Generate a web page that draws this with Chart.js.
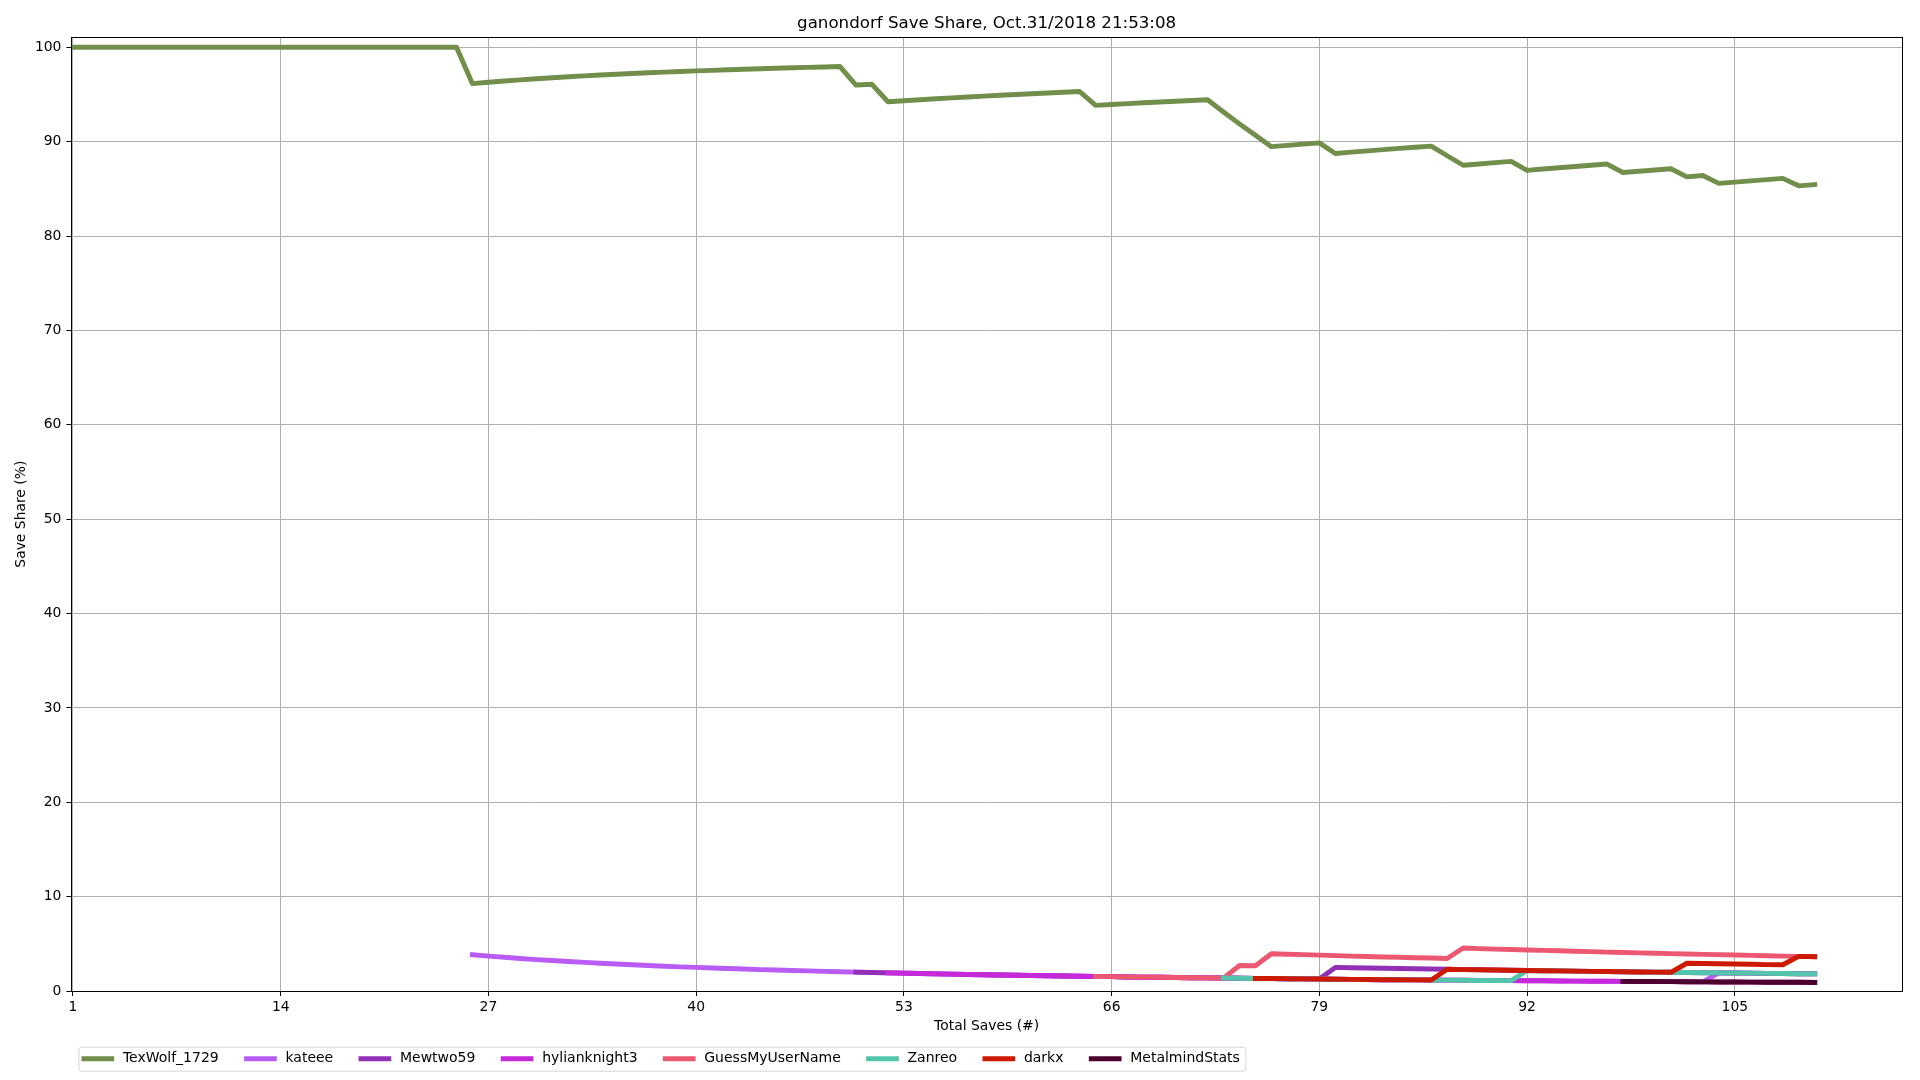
<!DOCTYPE html>
<html>
<head>
<meta charset="utf-8">
<script src="https://cdn.jsdelivr.net/npm/chart.js@4.4.1/dist/chart.umd.min.js"></script>
<style>
html, body { margin: 0; padding: 0; background: #ffffff; }
canvas { display: block; }
</style>
</head>
<body>
<canvas id="chart" width="1920" height="1080"></canvas>
<script>
// ---- chart text ----
const chartTitle = 'ganondorf Save Share, Oct.31/2018 21:53:08';
const xAxisLabel = 'Total Saves (#)';
const yAxisLabel = 'Save Share (%)';

// ---- tick labels ----
const xTickValues = [1, 14, 27, 40, 53, 66, 79, 92, 105];
const yTickValues = [0, 10, 20, 30, 40, 50, 60, 70, 80, 90, 100];

// ---- series (cumulative save share in %, one value per total save, starting at the series' first save) ----
const seriesNames = ['TexWolf_1729', 'kateee', 'Mewtwo59', 'hylianknight3', 'GuessMyUserName', 'Zanreo', 'darkx', 'MetalmindStats'];
const seriesColors = ['#718f4b', '#b85cf4', '#9130b5', '#c629d9', '#ec5872', '#54c5ad', '#cc1900', '#4b002d'];
const seriesStarts = [1, 26, 50, 52, 65, 73, 75, 98];

const texWolf = [
  100, 100, 100, 100, 100, 100, 100, 100, 100, 100,
  100, 100, 100, 100, 100, 100, 100, 100, 100, 100,
  100, 100, 100, 100, 100, 96.15, 96.30, 96.43, 96.55, 96.67,
  96.77, 96.88, 96.97, 97.06, 97.14, 97.22, 97.30, 97.37, 97.44, 97.50,
  97.56, 97.62, 97.67, 97.73, 97.78, 97.83, 97.87, 97.92, 97.96, 96.00,
  96.08, 94.23, 94.34, 94.44, 94.55, 94.64, 94.74, 94.83, 94.92, 95.00,
  95.08, 95.16, 95.24, 95.31, 93.85, 93.94, 94.03, 94.12, 94.20, 94.29,
  94.37, 94.44, 93.15, 91.89, 90.67, 89.47, 89.61, 89.74, 89.87, 88.75,
  88.89, 89.02, 89.16, 89.29, 89.41, 89.53, 88.51, 87.50, 87.64, 87.78,
  87.91, 86.96, 87.10, 87.23, 87.37, 87.50, 87.63, 86.73, 86.87, 87.00,
  87.13, 86.27, 86.41, 85.58, 85.71, 85.85, 85.98, 86.11, 85.32, 85.45
];
const kateee = [
  3.85, 3.70, 3.57, 3.45, 3.33, 3.23, 3.13, 3.03, 2.94, 2.86,
  2.78, 2.70, 2.63, 2.56, 2.50, 2.44, 2.38, 2.33, 2.27, 2.22,
  2.17, 2.13, 2.08, 2.04, 2.00, 1.96, 1.92, 1.89, 1.85, 1.82,
  1.79, 1.75, 1.72, 1.69, 1.67, 1.64, 1.61, 1.59, 1.56, 1.54,
  1.52, 1.49, 1.47, 1.45, 1.43, 1.41, 1.39, 1.37, 1.35, 1.33,
  1.32, 1.30, 1.28, 1.27, 1.25, 1.23, 1.22, 1.20, 1.19, 1.18,
  1.16, 1.15, 1.14, 1.12, 1.11, 1.10, 1.09, 1.08, 1.06, 1.05,
  1.04, 1.03, 1.02, 1.01, 1.00, 0.99, 0.98, 0.97,
  1.92, 1.90, 1.89, 1.87, 1.85, 1.83, 1.82
];
const mewtwo59 = [
  2.00, 1.96, 1.92, 1.89, 1.85, 1.82,
  1.79, 1.75, 1.72, 1.69, 1.67, 1.64, 1.61, 1.59, 1.56, 1.54,
  1.52, 1.49, 1.47, 1.45, 1.43, 1.41, 1.39, 1.37, 1.35, 1.33,
  1.32, 1.30, 1.28, 1.27,
  2.50, 2.47, 2.44, 2.41, 2.38, 2.35, 2.33, 2.30, 2.27, 2.25,
  2.22, 2.20, 2.17, 2.15, 2.13, 2.11, 2.08, 2.06, 2.04, 2.02,
  2.00, 1.98, 1.96, 1.94, 1.92, 1.90, 1.89, 1.87, 1.85, 1.83,
  1.82
];
const hylianknight3 = [
  1.92, 1.89, 1.85, 1.82,
  1.79, 1.75, 1.72, 1.69, 1.67, 1.64, 1.61, 1.59, 1.56, 1.54,
  1.52, 1.49, 1.47, 1.45, 1.43, 1.41, 1.39, 1.37, 1.35, 1.33,
  1.32, 1.30, 1.28, 1.27, 1.25, 1.23, 1.22, 1.20, 1.19, 1.18,
  1.16, 1.15, 1.14, 1.12, 1.11, 1.10, 1.09, 1.08, 1.06, 1.05,
  1.04, 1.03, 1.02, 1.01, 1.00, 0.99, 0.98, 0.97, 0.96, 0.95,
  0.94, 0.93, 0.93, 0.92, 0.91
];
const guessMyUserName = [
  1.54, 1.52, 1.49, 1.47, 1.45, 1.43, 1.41, 1.39, 1.37, 2.70,
  2.67, 3.95, 3.90, 3.85, 3.80, 3.75, 3.70, 3.66, 3.61, 3.57,
  3.53, 3.49, 3.45, 4.55, 4.49, 4.44, 4.40, 4.35, 4.30, 4.26,
  4.21, 4.17, 4.12, 4.08, 4.04, 4.00, 3.96, 3.92, 3.88, 3.85,
  3.81, 3.77, 3.74, 3.70, 3.67, 3.64
];
const zanreo = [
  1.37, 1.35, 1.33, 1.32, 1.30, 1.28, 1.27, 1.25, 1.23, 1.22,
  1.20, 1.19, 1.18, 1.16, 1.15, 1.14, 1.12, 1.11, 1.10,
  2.17, 2.15, 2.13, 2.11, 2.08, 2.06, 2.04, 2.02, 2.00, 1.98,
  1.96, 1.94, 1.92, 1.90, 1.89, 1.87, 1.85, 1.83, 1.82
];
const darkx = [
  1.33, 1.32, 1.30, 1.28, 1.27, 1.25, 1.23, 1.22, 1.20, 1.19,
  1.18, 1.16,
  2.30, 2.27, 2.25, 2.22, 2.20, 2.17, 2.15, 2.13, 2.11, 2.08,
  2.06, 2.04, 2.02, 2.00, 1.98,
  2.94, 2.91, 2.88, 2.86, 2.83, 2.80, 2.78,
  3.67, 3.64
];
const metalmindStats = [
  1.02, 1.01, 1.00, 0.99, 0.98, 0.97, 0.96, 0.95, 0.94, 0.93,
  0.93, 0.92, 0.91
];
const seriesValues = [texWolf, kateee, mewtwo59, hylianknight3, guessMyUserName, zanreo, darkx, metalmindStats];

// ---- styling ----
const FONT_FAMILY = "'DejaVu Sans', sans-serif";
const FS = 13.9;
const LEGEND_FS = 14.0;

const datasets = seriesNames.map((name, i) => ({
  label: name,
  data: seriesValues[i].map((v, k) => ({ x: seriesStarts[i] + k, y: v })),
  borderColor: seriesColors[i],
  backgroundColor: seriesColors[i],
  borderWidth: 4.9,
  pointRadius: 0,
  pointHoverRadius: 0,
  tension: 0,
  fill: false,
  borderJoinStyle: 'round',
  borderCapStyle: 'square',
  order: seriesNames.length - i
}));

const framePlugin = {
  id: 'mplFrame',
  afterDatasetsDraw(chart) {
    const { ctx, chartArea: a } = chart;
    ctx.save();
    ctx.strokeStyle = '#000000';
    ctx.lineWidth = 1;
    const l = Math.round(a.left) + 0.5, t = Math.round(a.top) + 0.5;
    const r = Math.round(a.right) + 0.5, b = Math.round(a.bottom) + 0.5;
    ctx.strokeRect(l, t, r - l, b - t);
    ctx.restore();
  }
};

function roundRectPath(ctx, x, y, w, h, r) {
  ctx.beginPath();
  ctx.moveTo(x + r, y);
  ctx.lineTo(x + w - r, y);
  ctx.arcTo(x + w, y, x + w, y + r, r);
  ctx.lineTo(x + w, y + h - r);
  ctx.arcTo(x + w, y + h, x + w - r, y + h, r);
  ctx.lineTo(x + r, y + h);
  ctx.arcTo(x, y + h, x, y + h - r, r);
  ctx.lineTo(x, y + r);
  ctx.arcTo(x, y, x + r, y, r);
  ctx.closePath();
}

const legendPlugin = {
  id: 'mplLegend',
  afterDraw(chart) {
    const ctx = chart.ctx;
    ctx.save();
    ctx.font = 'normal ' + LEGEND_FS + 'px ' + FONT_FAMILY;
    const boxLeft = 78.4, boxTop = 1046.7, boxH = 24;
    const pad = 0.4 * FS, handleLen = 2 * FS, textPad = 0.8 * FS, colSp = 2 * FS;
    const items = chart.data.datasets.map(d => ({ label: d.label, color: d.borderColor, w: ctx.measureText(d.label).width }));
    let boxW = 2 * pad + colSp * (items.length - 1);
    items.forEach(it => { boxW += handleLen + textPad + it.w; });
    roundRectPath(ctx, boxLeft + 0.5, boxTop + 0.5, boxW, boxH, 0.2 * FS);
    ctx.fillStyle = 'rgba(255,255,255,0.8)';
    ctx.fill();
    ctx.strokeStyle = '#d6d6d6';
    ctx.lineWidth = 1;
    ctx.stroke();
    const yc = boxTop + boxH / 2;
    let x = boxLeft + pad;
    items.forEach(it => {
      ctx.beginPath();
      ctx.strokeStyle = it.color;
      ctx.lineWidth = 4.9;
      ctx.lineCap = 'square';
      ctx.moveTo(x, yc);
      ctx.lineTo(x + handleLen, yc);
      ctx.stroke();
      ctx.fillStyle = '#000000';
      ctx.textBaseline = 'middle';
      ctx.textAlign = 'left';
      ctx.fillText(it.label, x + handleLen + textPad, yc);
      x += handleLen + textPad + it.w + colSp;
    });
    ctx.restore();
  }
};

Chart.defaults.color = '#000000';
Chart.defaults.font.family = FONT_FAMILY;

new Chart(document.getElementById('chart'), {
  type: 'line',
  data: { datasets },
  options: {
    responsive: false,
    animation: false,
    devicePixelRatio: 1,
    events: [],
    layout: { padding: { left: 0, right: 18.2, top: 0, bottom: 45 } },
    plugins: {
      legend: { display: false },
      tooltip: { enabled: false },
      title: {
        display: true,
        text: chartTitle,
        fullSize: false,
        color: '#000000',
        font: { family: FONT_FAMILY, size: 16.67, weight: 'normal', lineHeight: 1.2 },
        padding: { top: 13.7, bottom: 3.6 }
      }
    },
    scales: {
      x: {
        type: 'linear',
        min: 0.9,
        max: 115.45,
        afterBuildTicks: s => { s.ticks = xTickValues.map(v => ({ value: v })); },
        afterFit: s => { s.height = 44; },
        ticks: { color: '#000000', font: { family: FONT_FAMILY, size: FS }, padding: 3, maxRotation: 0, autoSkip: false, includeBounds: false },
        grid: { color: '#b0b0b0', lineWidth: 1, drawTicks: true, tickLength: 5, tickColor: '#000000', tickWidth: 1 },
        border: { display: false },
        title: { display: true, text: xAxisLabel, color: '#000000', font: { family: FONT_FAMILY, size: FS }, padding: { top: 4, bottom: 0 } }
      },
      y: {
        type: 'linear',
        min: 0,
        max: 101.06,
        afterBuildTicks: s => { s.ticks = yTickValues.map(v => ({ value: v })); },
        afterFit: s => { s.width = 71.4; },
        ticks: { color: '#000000', font: { family: FONT_FAMILY, size: FS }, padding: 5, autoSkip: false, includeBounds: false },
        grid: { color: '#b0b0b0', lineWidth: 1, drawTicks: true, tickLength: 5, tickColor: '#000000', tickWidth: 1 },
        border: { display: false },
        title: { display: true, text: yAxisLabel, color: '#000000', font: { family: FONT_FAMILY, size: FS }, padding: { top: 13.5, bottom: 0 } }
      }
    }
  },
  plugins: [framePlugin, legendPlugin]
});
</script>
</body>
</html>
